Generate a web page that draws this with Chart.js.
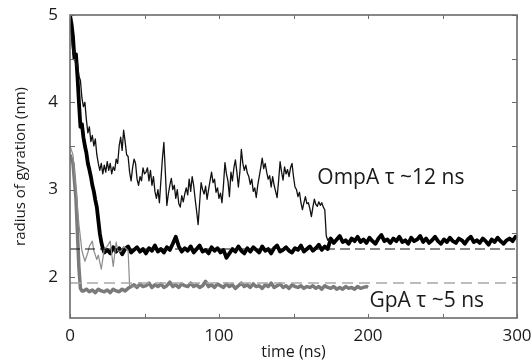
<!DOCTYPE html>
<html>
<head>
<meta charset="utf-8">
<script src="https://cdn.jsdelivr.net/npm/chart.js@4.4.1/dist/chart.umd.min.js"></script>
<style>
  html, body { margin: 0; padding: 0; background: #fff; }
  #wrap { width: 532px; height: 362px; }
</style>
</head>
<body>
<div id="wrap"><canvas id="rg" width="532" height="362"></canvas></div>
<script>
// ---------------------------------------------------------------------------
// Data – radius of gyration vs. time
// ---------------------------------------------------------------------------
const X_TICKS = [0, 50, 100, 150, 200, 250, 300];
const X_LABELS = [0, 100, 200, 300];
const Y_TICKS = [2, 2.5, 3, 3.5, 4, 4.5, 5];
const Y_LABELS = [2, 3, 4, 5];

// OmpA, thick trace
const OMPA_A_T = [0,1,2,3,4,5,6,7,8,9,10,11,12,13,14,15,16,17,18,19,20,21,22,23,
  25,27,29,31,33,35,37,39,41,43,45,47,49,51,53,55,57,59,61,63,65,67,69,71,73,75,77,79,81,83,
  85,87,89,91,93,95,97,99,101,103,105,107,109,111,113,115,117,119,121,123,125,127,129,131,133,135,137,139,141,143,
  145,147,149,151,153,155,157,159,161,163,165,167,169,171,173,
  175,177,179,181,183,185,187,189,191,193,195,197,199,201,203,205,207,209,211,213,
  215,217,219,221,223,225,227,229,231,233,235,237,239,241,243,245,247,249,251,253,
  255,257,259,261,263,265,267,269,271,273,275,277,279,281,283,285,287,289,291,293,295,297,299,300];
const OMPA_A_RG = [5.0,4.9,4.75,4.5,4.55,4.3,4.0,3.72,3.75,3.6,3.5,3.42,3.3,3.23,3.15,3.05,2.98,2.88,2.8,2.65,2.5,2.4,2.33,2.28,
  2.31,2.27,2.34,2.29,2.33,2.26,2.32,2.35,2.28,2.31,
  2.34,2.29,2.32,2.27,2.33,2.30,2.36,2.29,2.32,2.28,
  2.34,2.31,2.38,2.46,2.35,2.29,2.33,2.30,2.35,2.28,
  2.32,2.36,2.29,2.31,2.27,2.34,2.30,2.33,2.28,2.31,
  2.22,2.27,2.32,2.29,2.35,2.30,2.27,2.33,2.29,2.34,
  2.31,2.28,2.35,2.30,2.32,2.27,2.33,2.36,2.29,2.31,
  2.34,2.30,2.28,2.33,2.31,2.36,2.29,2.32,2.35,2.30,
  2.33,2.37,2.31,2.35,2.32,
  2.44,2.39,2.43,2.47,2.40,2.42,2.38,2.44,2.41,2.46,
  2.40,2.43,2.39,2.45,2.41,2.38,2.44,2.48,2.41,2.43,
  2.39,2.44,2.41,2.46,2.40,2.42,2.38,2.45,2.41,2.43,
  2.47,2.40,2.44,2.39,2.42,2.46,2.41,2.38,2.43,2.40,
  2.45,2.41,2.39,2.44,2.42,2.38,2.43,2.46,2.40,2.42,
  2.39,2.44,2.41,2.37,2.43,2.40,2.45,2.41,2.38,2.42,
  2.44,2.41,2.46,2.45];

// OmpA, thin trace
const OMPA_B_T = [0,1,2,3,4,5,6,7,8,9,10,11,12,13,14,15,16,17,18,19,20,21,22,23,24,25,26,27,28,29,
  30,31,32,33,34,35,36,37,38,39,40,41,42,43,44,45,46,47,48,49,50,51,52,53,54,55,56,57,58,59,
  60,61,62,63,64,65,66,67,68,69,70,71,72,73,74,75,76,77,78,79,80,81,82,83,84,85,86,87,88,89,
  90,91,92,93,94,95,96,97,98,99,100,101,102,103,104,105,106,107,108,109,110,111,112,113,114,115,116,117,118,119,
  120,121,122,123,124,125,126,127,128,129,130,131,132,133,134,135,136,137,138,139,140,141,142,143,144,145,146,147,148,149,
  150,151,152,153,154,155,156,157,158,159,160,161,162,163,164,165,166,167,168,169,170,171,172,173,174,175];
const OMPA_B_RG = [4.9,4.75,4.55,4.6,4.4,4.45,4.3,4.25,4.05,3.95,
  4.0,3.8,3.65,3.72,3.55,3.62,3.5,3.58,3.4,3.3,
  3.22,3.3,3.18,3.28,3.2,3.32,3.22,3.3,3.18,3.26,
  3.22,3.35,3.3,3.5,3.6,3.45,3.68,3.55,3.4,3.38,
  3.2,3.1,3.25,3.35,3.3,3.12,3.05,3.15,3.1,3.25,
  3.18,3.2,3.25,3.1,3.22,3.05,3.15,2.98,2.9,3.0,
  2.85,3.1,3.35,3.54,3.2,2.82,2.95,3.05,3.13,3.0,
  3.05,2.9,3.0,2.84,2.8,2.93,2.86,2.95,3.02,2.94,
  3.12,2.98,3.15,3.05,2.89,2.75,2.6,2.85,3.08,3.0,
  2.95,3.04,2.89,3.0,3.1,3.2,3.08,3.12,2.97,3.02,
  2.9,2.96,2.85,3.05,3.31,3.18,3.1,2.92,3.2,3.1,
  3.25,3.34,3.2,3.03,3.2,3.46,3.3,3.22,3.28,3.19,
  3.15,3.06,3.12,2.98,3.02,2.91,3.05,3.15,3.25,3.36,
  3.24,3.3,3.2,3.12,3.16,3.03,3.15,3.05,2.98,2.91,
  3.1,3.32,3.2,3.11,3.26,3.18,3.23,3.15,3.25,3.3,
  3.15,3.03,3.0,2.92,2.97,2.85,2.77,2.85,2.92,2.84,
  2.85,2.78,2.69,2.8,2.89,2.83,2.81,2.86,2.82,2.85,
  2.8,2.77,2.47,2.42,2.44,2.4];

// GpA, thick trace
const GPA_A_T = [0,1,2,3,4,5,6,7,8,
  9,11,13,15,17,19,21,23,25,27,29,31,33,35,37,39,
  41,43,45,47,49,51,53,55,57,59,61,63,65,67,69,71,73,75,77,79,
  81,83,85,87,89,91,93,95,97,99,101,103,105,107,109,111,113,115,117,119,
  121,123,125,127,129,131,133,135,137,139,141,143,145,147,149,151,153,155,157,159,
  161,163,165,167,169,171,173,175,177,179,181,183,185,187,189,191,193,195,197,199,200];
const GPA_A_RG = [3.4,3.35,3.3,3.1,2.9,2.5,2.1,1.87,1.84,
  1.84,1.86,1.83,1.85,1.82,1.86,1.84,1.83,1.85,1.82,1.86,1.84,1.83,1.86,1.84,1.87,
  1.89,1.91,1.88,1.92,1.89,1.90,1.93,1.88,1.91,1.89,
  1.92,1.88,1.90,1.94,1.89,1.91,1.88,1.92,1.90,1.89,
  1.93,1.89,1.91,1.88,1.90,1.95,1.89,1.91,1.88,1.92,
  1.90,1.88,1.92,1.89,1.91,1.87,1.90,1.93,1.89,1.91,
  1.88,1.92,1.89,1.90,1.87,1.91,1.89,1.93,1.88,1.90,
  1.92,1.88,1.90,1.87,1.91,1.89,1.88,1.90,1.87,1.89,
  1.88,1.90,1.87,1.89,1.86,1.90,1.88,1.87,1.89,1.86,
  1.88,1.86,1.89,1.87,1.88,1.86,1.89,1.87,1.88,1.89,1.88];

// GpA, thin trace
const GPA_B_T = [0,1,2,3,4,5,6,7,8,10,12,13,15,16,18,19,21,23,25,27,29,31,32,34,36,38,39,40,43,46];
const GPA_B_RG = [3.5,3.45,3.4,3.2,3.0,2.8,2.6,2.45,2.3,2.18,2.28,2.35,2.41,2.3,2.2,2.25,2.09,2.32,2.35,2.41,
  2.12,2.4,2.3,2.29,2.35,2.32,2.3,1.9,1.89,1.9];

// plateau fits (dashed)
const FIT_T = [0, 300];
const OMPA_FIT = 2.32;
const GPA_FIT = 1.93;

const NOTES = [
  { text: 'OmpA \u03c4 ~12 ns', t: 166, rg: 3.13 },
  { text: 'GpA \u03c4 ~5 ns', t: 201, rg: 1.72 }
];

// ---------------------------------------------------------------------------
// Helpers
// ---------------------------------------------------------------------------
function pts(ts, vs) {
  return ts.map((t, i) => ({ x: t, y: vs[i] }));
}

function trace(label, ts, vs, color, width, dash) {
  return {
    label,
    data: pts(ts, vs),
    borderColor: color,
    borderWidth: width,
    borderDash: dash || [],
    pointRadius: 0,
    tension: 0,
    fill: false,
    borderJoinStyle: 'round'
  };
}

// box + inward ticks + text notes
const framePlugin = {
  id: 'frame',
  afterDatasetsDraw(chart) {
    const { ctx, chartArea: a, scales: { x, y } } = chart;
    ctx.save();
    ctx.strokeStyle = '#6b6b6b';
    ctx.lineWidth = 1.6;
    ctx.strokeRect(a.left, a.top, a.right - a.left, a.bottom - a.top);
    ctx.lineWidth = 1;
    ctx.beginPath();
    X_TICKS.forEach(v => {
      const px = Math.round(x.getPixelForValue(v)) + 0.5;
      ctx.moveTo(px, a.bottom); ctx.lineTo(px, a.bottom - 4);
      ctx.moveTo(px, a.top); ctx.lineTo(px, a.top + 4);
    });
    Y_TICKS.forEach(v => {
      const py = Math.round(y.getPixelForValue(v)) + 0.5;
      ctx.moveTo(a.left, py); ctx.lineTo(a.left + 5, py);
      ctx.moveTo(a.right, py); ctx.lineTo(a.right - 5, py);
    });
    ctx.stroke();

    ctx.fillStyle = '#1a1a1a';
    ctx.font = '21px "Open Sans"';
    ctx.textBaseline = 'middle';
    ctx.textAlign = 'left';
    NOTES.forEach(n => ctx.fillText(n.text, x.getPixelForValue(n.t), y.getPixelForValue(n.rg)));
    ctx.restore();
  }
};

// ---------------------------------------------------------------------------
// Chart
// ---------------------------------------------------------------------------
new Chart(document.getElementById('rg'), {
  type: 'line',
  data: {
    datasets: [
      trace('GpA fit', FIT_T, [GPA_FIT, GPA_FIT], '#a8a8a8', 1.5, [11, 6]),
      trace('OmpA fit', FIT_T, [OMPA_FIT, OMPA_FIT], '#111', 1.2, [10, 5]),
      trace('GpA 2', GPA_B_T, GPA_B_RG, '#8c8c8c', 1.2),
      trace('GpA 1', GPA_A_T, GPA_A_RG, '#7a7a7a', 3.5),
      trace('OmpA 2', OMPA_B_T, OMPA_B_RG, '#111', 1.3),
      trace('OmpA 1', OMPA_A_T, OMPA_A_RG, '#000', 3.8)
    ]
  },
  options: {
    responsive: false,
    animation: false,
    devicePixelRatio: 1,
    layout: { padding: { top: 15, right: 15, left: 0, bottom: 0 } },
    plugins: { legend: { display: false }, tooltip: { enabled: false } },
    scales: {
      x: {
        type: 'linear',
        min: 0,
        max: 300,
        grid: { display: false, drawTicks: false },
        border: { display: false },
        afterBuildTicks: s => { s.ticks = X_TICKS.map(v => ({ value: v })); },
        afterFit: s => { s.height = 44; s.paddingRight = 0; s.paddingLeft = 0; },
        ticks: {
          autoSkip: false,
          maxRotation: 0,
          padding: 8,
          color: '#1a1a1a',
          font: { family: 'Open Sans', size: 17 },
          callback: v => X_LABELS.includes(v) ? String(v) : ''
        },
        title: {
          display: true,
          text: 'time (ns)',
          color: '#1a1a1a',
          font: { family: 'Open Sans', size: 16 },
          padding: { top: 0, bottom: 0 }
        }
      },
      y: {
        min: 1.53,
        max: 5,
        grid: { display: false, drawTicks: false },
        border: { display: false },
        afterBuildTicks: s => { s.ticks = Y_TICKS.map(v => ({ value: v })); },
        afterFit: s => { s.width = 70; s.paddingTop = 0; s.paddingBottom = 0; },
        ticks: {
          autoSkip: false,
          padding: 12,
          color: '#1a1a1a',
          font: { family: 'Open Sans', size: 17 },
          callback: v => Y_LABELS.includes(v) ? String(v) : ''
        },
        title: {
          display: true,
          text: 'radius of gyration (nm)',
          color: '#1a1a1a',
          font: { family: 'Open Sans', size: 15 },
          padding: { top: 12, bottom: 0 }
        }
      }
    }
  },
  plugins: [framePlugin]
});
</script>
</body>
</html>
